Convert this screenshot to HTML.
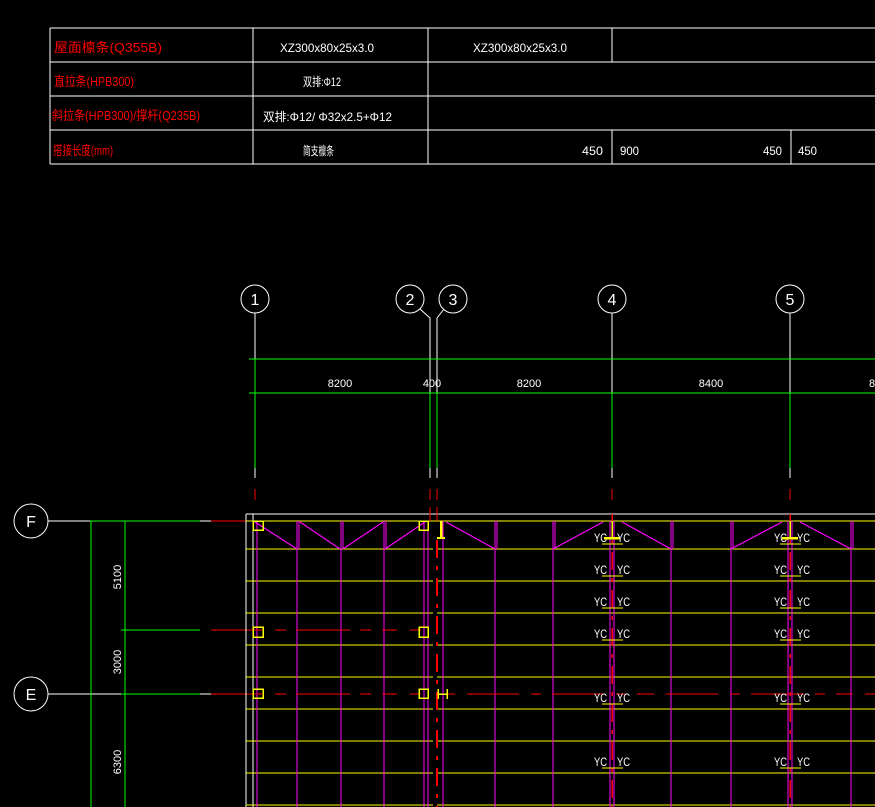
<!DOCTYPE html>
<html><head><meta charset="utf-8"><style>
html,body{margin:0;padding:0;background:#000;}
svg{display:block}
text{font-family:"Liberation Sans","Noto Sans CJK SC",sans-serif;}
.c line,.c rect{shape-rendering:crispEdges}
</style></head><body>
<svg class="c" width="875" height="807" viewBox="0 0 875 807" xmlns="http://www.w3.org/2000/svg">
<rect width="875" height="807" fill="#000"/>
<!-- table -->
<g stroke="#fff" stroke-width="1" fill="none">
<line x1="50" y1="28" x2="875" y2="28"/>
<line x1="50" y1="62" x2="875" y2="62"/>
<line x1="50" y1="96" x2="875" y2="96"/>
<line x1="50" y1="130" x2="875" y2="130"/>
<line x1="50" y1="164" x2="875" y2="164"/>
<line x1="50" y1="28" x2="50" y2="164"/>
<line x1="253" y1="28" x2="253" y2="164"/>
<line x1="428" y1="28" x2="428" y2="164"/>
<line x1="612" y1="28" x2="612" y2="62"/>
<line x1="612" y1="130" x2="612" y2="164"/>
<line x1="791" y1="130" x2="791" y2="164"/>
</g>
<g fill="#f00" font-size="13">
<text x="54" y="52" textLength="108" lengthAdjust="spacingAndGlyphs">屋面檩条(Q355B)</text>
<text x="54" y="86" textLength="80" lengthAdjust="spacingAndGlyphs">直拉条(HPB300)</text>
<text x="52" y="120" textLength="148" lengthAdjust="spacingAndGlyphs">斜拉条(HPB300)/撑杆(Q235B)</text>
<text x="53" y="155" textLength="60" lengthAdjust="spacingAndGlyphs">搭接长度(mm)</text>
</g>
<g fill="#fff" font-size="12">
<text x="280" y="52" textLength="94" lengthAdjust="spacingAndGlyphs">XZ300x80x25x3.0</text>
<text x="473" y="52" textLength="94" lengthAdjust="spacingAndGlyphs">XZ300x80x25x3.0</text>
<text x="303" y="86" textLength="38" lengthAdjust="spacingAndGlyphs">双排:Φ12</text>
<text x="263" y="121" textLength="129" lengthAdjust="spacingAndGlyphs">双排:Φ12/   Φ32x2.5+Φ12</text>
<text x="303" y="155" textLength="31" lengthAdjust="spacingAndGlyphs">简支檩条</text>
<text x="582" y="155" textLength="21" lengthAdjust="spacingAndGlyphs">450</text>
<text x="620" y="155" textLength="19" lengthAdjust="spacingAndGlyphs">900</text>
<text x="763" y="155" textLength="19" lengthAdjust="spacingAndGlyphs">450</text>
<text x="798" y="155" textLength="19" lengthAdjust="spacingAndGlyphs">450</text>
</g>
<!-- axis bubbles -->
<g stroke="#fff" stroke-width="1" fill="none">
<circle cx="255" cy="299" r="14"/>
<circle cx="410" cy="299" r="14"/>
<circle cx="453" cy="299" r="14"/>
<circle cx="612" cy="299" r="14"/>
<circle cx="790" cy="299" r="14"/>
<circle cx="31" cy="521" r="17"/>
<circle cx="31" cy="694" r="17"/>
<line x1="255" y1="313" x2="255" y2="478"/>
<polyline points="420,309 430,318 430,478"/>
<polyline points="444,309 437,318 437,478"/>
<line x1="612" y1="313" x2="612" y2="478"/>
<line x1="790" y1="313" x2="790" y2="478"/>
<line x1="48" y1="521" x2="90" y2="521"/>
<line x1="48" y1="694" x2="121" y2="694"/>
<line x1="200" y1="521" x2="211" y2="521"/>
<line x1="200" y1="694" x2="211" y2="694"/>
</g>
<g fill="#fff" font-size="16" text-anchor="middle">
<text x="255" y="305">1</text><text x="410" y="305">2</text><text x="453" y="305">3</text>
<text x="612" y="305">4</text><text x="790" y="305">5</text>
<text x="31" y="527">F</text><text x="31" y="700">E</text>
</g>
<!-- green dims -->
<g stroke="#0f0" stroke-width="1" fill="none">
<line x1="249" y1="359" x2="875" y2="359"/>
<line x1="249" y1="393" x2="875" y2="393"/>
<line x1="255" y1="359" x2="255" y2="468"/>
<line x1="430" y1="393" x2="430" y2="468"/>
<line x1="437" y1="393" x2="437" y2="468"/>
<line x1="612" y1="393" x2="612" y2="468"/>
<line x1="790" y1="393" x2="790" y2="468"/>
<line x1="90" y1="521" x2="200" y2="521"/>
<line x1="121" y1="630" x2="200" y2="630"/>
<line x1="121" y1="694" x2="200" y2="694"/>
<line x1="91" y1="521" x2="91" y2="807"/>
<line x1="125" y1="521" x2="125" y2="807"/>
</g>
<g fill="#fff" font-size="11" text-anchor="middle">
<text x="340" y="387">8200</text><text x="432" y="387">400</text>
<text x="529" y="387">8200</text><text x="711" y="387">8400</text><text x="872" y="387">8</text>
<text transform="translate(121,577) rotate(-90)">5100</text>
<text transform="translate(121,662) rotate(-90)">3000</text>
<text transform="translate(121,762) rotate(-90)">6300</text>
</g>
<!-- red ticks / axis lines -->
<g stroke="#f00" stroke-width="1" fill="none">
<line x1="255" y1="489" x2="255" y2="500"/>
<line x1="430" y1="489" x2="430" y2="500"/>
<line x1="437" y1="489" x2="437" y2="500"/>
<line x1="612" y1="489" x2="612" y2="500"/>
<line x1="790" y1="489" x2="790" y2="500"/>
<line x1="211" y1="521" x2="247" y2="521"/>
<line x1="211" y1="630" x2="247" y2="630"/>
<line x1="211" y1="694" x2="247" y2="694"/>
</g>
<!-- frame -->
<g stroke="#fff" stroke-width="1" fill="none">
<line x1="246" y1="514" x2="875" y2="514"/>
<line x1="246" y1="514" x2="246" y2="807"/>
<line x1="253" y1="514" x2="253" y2="807"/>
</g>
<!-- yellow purlins -->
<g stroke="#ff0" stroke-width="1">
<line x1="246" y1="521" x2="875" y2="521"/>
<g id="yl">
<line x1="246" y1="549" x2="433" y2="549"/><line x1="437" y1="549" x2="875" y2="549"/>
</g>
<use href="#yl" y="32"/><use href="#yl" y="64"/><use href="#yl" y="96"/><use href="#yl" y="128"/>
<use href="#yl" y="160"/><use href="#yl" y="192"/><use href="#yl" y="224"/><use href="#yl" y="256"/>
</g>
<!-- magenta verticals -->
<g stroke="#f0f" stroke-width="1">
<line x1="257" y1="521" x2="257" y2="807"/>
<line x1="297" y1="521" x2="297" y2="807"/><line x1="299" y1="521" x2="299" y2="549"/>
<line x1="341" y1="521" x2="341" y2="807"/><line x1="343" y1="521" x2="343" y2="549"/>
<line x1="384" y1="521" x2="384" y2="807"/><line x1="386" y1="521" x2="386" y2="549"/>
<line x1="424" y1="521" x2="424" y2="807"/>
<line x1="428" y1="521" x2="428" y2="807"/>
<line x1="443" y1="521" x2="443" y2="807"/>
<line x1="495" y1="521" x2="495" y2="807"/><line x1="497" y1="521" x2="497" y2="549"/>
<line x1="553" y1="521" x2="553" y2="807"/><line x1="555" y1="521" x2="555" y2="549"/>
<line x1="610" y1="521" x2="610" y2="807"/><line x1="614" y1="521" x2="614" y2="807"/>
<line x1="671" y1="521" x2="671" y2="807"/><line x1="673" y1="521" x2="673" y2="549"/>
<line x1="731" y1="521" x2="731" y2="807"/><line x1="733" y1="521" x2="733" y2="549"/>
<line x1="788" y1="521" x2="788" y2="807"/><line x1="792" y1="521" x2="792" y2="807"/>
<line x1="851" y1="521" x2="851" y2="807"/><line x1="853" y1="521" x2="853" y2="549"/>
</g>
<g stroke="#f0f" stroke-width="1.2" style="shape-rendering:auto">
<line x1="255" y1="522" x2="297" y2="549" style="shape-rendering:auto"/>
<line x1="300" y1="522" x2="340" y2="549" style="shape-rendering:auto"/>
<line x1="343" y1="549" x2="383" y2="522" style="shape-rendering:auto"/>
<line x1="385" y1="549" x2="425" y2="522" style="shape-rendering:auto"/>
<line x1="446" y1="522" x2="495" y2="549" style="shape-rendering:auto"/>
<line x1="553" y1="549" x2="603" y2="522" style="shape-rendering:auto"/>
<line x1="622" y1="522" x2="671" y2="549" style="shape-rendering:auto"/>
<line x1="731" y1="549" x2="782" y2="522" style="shape-rendering:auto"/>
<line x1="800" y1="522" x2="851" y2="549" style="shape-rendering:auto"/>
</g>
<!-- red dashed lines -->
<g stroke="#f00" stroke-width="1" fill="none">
<line x1="247" y1="630" x2="430" y2="630" stroke-dasharray="15 13 11 10 54 10 11 11"/>
<line x1="247" y1="694" x2="430" y2="694" stroke-dasharray="15 13 11 10 54 10 11 11"/>
<line x1="438" y1="694" x2="875" y2="694" stroke-dasharray="17 12 52 12 10 11 53 11 10 11"/>
<line x1="612" y1="514" x2="612" y2="807" stroke-width="1.5" stroke-dasharray="18 8 4 8"/>
<line x1="790" y1="514" x2="790" y2="807" stroke-width="1.5" stroke-dasharray="18 8 4 8"/>
<line x1="437" y1="540" x2="437" y2="807" stroke-width="2" stroke-dasharray="18 8 4 8"/>
<line x1="430" y1="507" x2="430" y2="521"/>
<line x1="437" y1="507" x2="437" y2="521"/>
</g>
<!-- yellow details -->
<g stroke="#ff0" stroke-width="1.5" fill="none">
<rect x="253" y="521" width="10" height="9"/>
<rect x="419" y="521" width="9" height="9"/>
<rect x="253" y="627" width="10" height="10"/>
<rect x="419" y="627" width="9" height="10"/>
<rect x="253" y="689" width="10" height="9"/>
<rect x="419" y="689" width="9" height="9"/>
<line x1="441" y1="521" x2="441" y2="537" stroke-width="2.5"/>
<line x1="437" y1="538" x2="445" y2="538" stroke-width="2"/>
<line x1="438" y1="694" x2="447" y2="694"/><line x1="438" y1="689" x2="438" y2="699"/><line x1="447" y1="689" x2="447" y2="699"/>
<line x1="612" y1="521" x2="612" y2="537"/><line x1="604" y1="538" x2="620" y2="538" stroke-width="2.5"/>
<line x1="790" y1="521" x2="790" y2="537"/><line x1="782" y1="538" x2="798" y2="538" stroke-width="2.5"/>
</g>
<g stroke="#ff0" stroke-width="1">
<g id="ul"><line x1="602" y1="544" x2="623" y2="544"/><line x1="780" y1="544" x2="801" y2="544"/></g>
<use href="#ul" y="32"/><use href="#ul" y="64"/><use href="#ul" y="96"/><use href="#ul" y="160"/><use href="#ul" y="224"/>
</g>
<g fill="#fff" font-size="12">
<g id="yc"><text x="594" y="542" textLength="13" lengthAdjust="spacingAndGlyphs">YC</text><text x="617" y="542" textLength="13" lengthAdjust="spacingAndGlyphs">YC</text><text x="774" y="542" textLength="13" lengthAdjust="spacingAndGlyphs">YC</text><text x="797" y="542" textLength="13" lengthAdjust="spacingAndGlyphs">YC</text></g>
<use href="#yc" y="32"/><use href="#yc" y="64"/><use href="#yc" y="96"/><use href="#yc" y="160"/><use href="#yc" y="224"/>
</g>
</svg>
</body></html>
